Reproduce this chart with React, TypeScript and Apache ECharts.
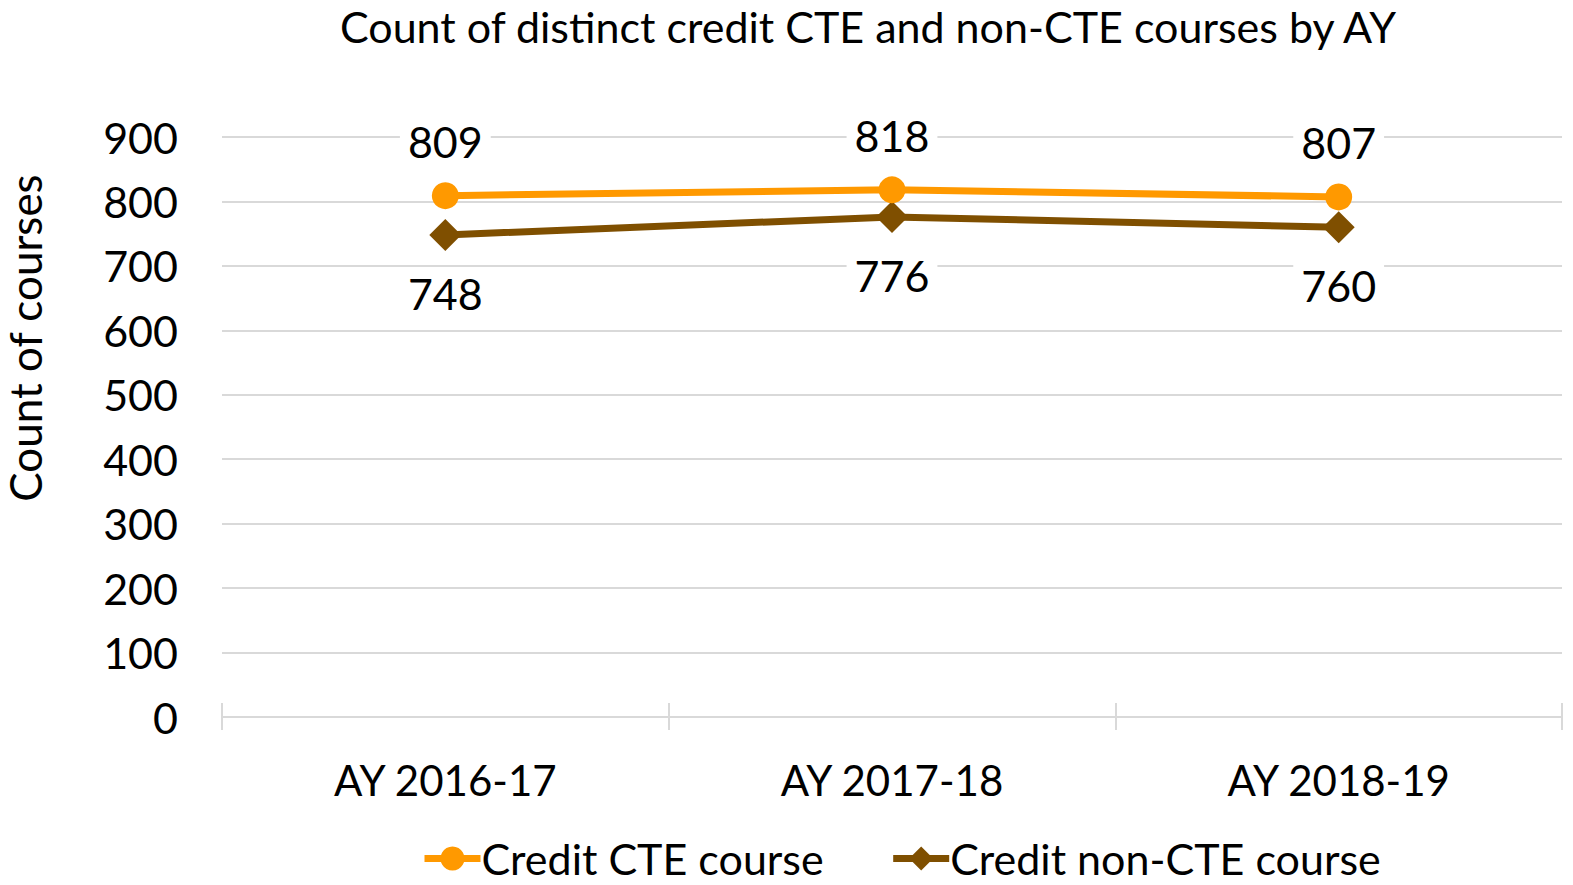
import React, { useEffect, useRef } from "react";
import * as echarts from "echarts";

const categories = ["AY 2016-17", "AY 2017-18", "AY 2018-19"];
const cteValues = [809, 818, 807];
const nonCteValues = [748, 776, 760];
const seriesNames = ["Credit CTE course", "Credit non-CTE course"];
const titleText = "Count of distinct credit CTE and non-CTE courses by AY";
const yAxisTitle = "Count of courses";

const FONT = "Lato, 'Open Sans', sans-serif";

export default function App() {
  const ref = useRef<HTMLDivElement>(null);
  useEffect(() => {
    if (!ref.current) return;
    const chart = echarts.init(ref.current, undefined, { renderer: "svg" });
    chart.setOption({
      animation: false,
      backgroundColor: "#ffffff",
      textStyle: { fontFamily: FONT },
      title: {
        text: titleText,
        left: 863,
        textAlign: "center",
        top: 0,
        textStyle: { fontFamily: FONT, fontSize: 43, fontWeight: "normal", color: "#000" },
      },
      graphic: [
        {
          type: "text",
          x: 25,
          y: 338,
          rotation: Math.PI / 2,
          style: {
            text: yAxisTitle,
            fontFamily: FONT,
            fontSize: 44,
            fill: "#000",
            align: "center",
            verticalAlign: "middle",
          },
        },
      ],
      legend: {
        bottom: 0,
        left: 416,
        itemWidth: 56,
        itemHeight: 30,
        itemGap: 66,
        lineStyle: { width: 7 },
        textStyle: { fontFamily: FONT, fontSize: 43, color: "#000", padding: [0, 0, 0, -4] },
        data: seriesNames,
      },
      grid: { left: 222, right: 11, top: 137, bottom: 168, containLabel: false },
      xAxis: [
        {
          type: "category",
          data: categories,
          boundaryGap: true,
          axisLine: { show: true, lineStyle: { color: "#d9d9d9", width: 2 } },
          axisTick: { show: true, length: 13, lineStyle: { color: "#d9d9d9", width: 2 } },
          axisLabel: { fontFamily: FONT, fontSize: 42, color: "#000", margin: 42 },
        },
        {
          type: "category",
          data: categories,
          position: "bottom",
          boundaryGap: true,
          axisLine: { show: false },
          axisTick: { show: true, inside: true, length: 14, lineStyle: { color: "#d9d9d9", width: 2 } },
          axisLabel: { show: false },
        },
      ],
      yAxis: {
        type: "value",
        min: 0,
        max: 900,
        interval: 100,
        axisLine: { show: false },
        axisTick: { show: false },
        splitLine: { lineStyle: { color: "#d9d9d9", width: 2 } },
        axisLabel: { fontFamily: FONT, fontSize: 43, color: "#000", margin: 44 },
      },
      series: [
        {
          name: seriesNames[1],
          type: "line",
          data: nonCteValues,
          symbol: "diamond",
          symbolSize: [32, 32],
          lineStyle: { color: "#7f4f00", width: 7 },
          itemStyle: { color: "#7f4f00" },
          label: {
            show: true,
            position: "bottom",
            distance: 19,
            fontFamily: FONT,
            fontSize: 43,
            color: "#000",
            backgroundColor: "#fff",
            padding: [2, 8, 2, 8],
          },
        },
        {
          name: seriesNames[0],
          type: "line",
          data: cteValues,
          symbol: "circle",
          symbolSize: 27,
          lineStyle: { color: "#ff9900", width: 7 },
          itemStyle: { color: "#ff9900" },
          label: {
            show: true,
            position: "top",
            distance: 17,
            fontFamily: FONT,
            fontSize: 43,
            color: "#000",
            backgroundColor: "#fff",
            padding: [2, 8, 2, 8],
          },
        },
      ],
    });
    return () => chart.dispose();
  }, []);
  return <div ref={ref} style={{ width: 1573, height: 885, position: "absolute", left: 0, top: 0 }} />;
}
